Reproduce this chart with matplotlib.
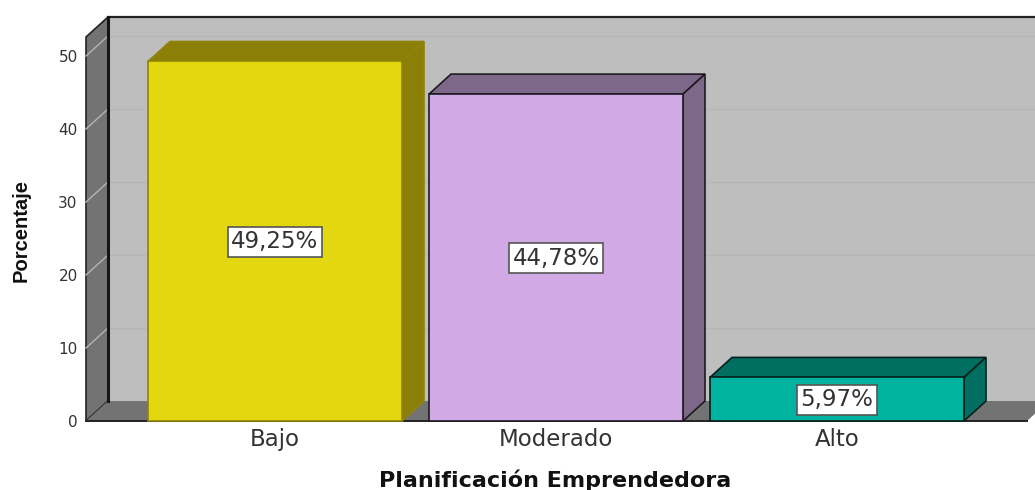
import matplotlib
matplotlib.use("Agg")
import matplotlib.pyplot as plt
from matplotlib.patches import Polygon, Rectangle

categories = ["Bajo", "Moderado", "Alto"]
values = [49.25, 44.78, 5.97]
labels = ["49,25%", "44,78%", "5,97%"]
yticks = [0, 10, 20, 30, 40, 50]
front = ["#E3D70F", "#D0A9E5", "#00B39F"]
shade = ["#8B7F08", "#7E6889", "#006E60"]
edges = ["#8F8408", "#1E1A22", "#06201C"]

W, H = 1035, 490
fig = plt.figure(figsize=(W / 100, H / 100), dpi=100, facecolor="white")
L, R, B, T = 86, 1027, 421, 17
ax = fig.add_axes([L / W, 1 - B / H, (R - L) / W, (B - T) / H])
px_x, px_y = 281.0, 7.3
ax.set_xlim((L - 275) / px_x, (R - 275) / px_x)
ax.set_ylim(0, (B - T) / px_y)
for s in ax.spines.values():
    s.set_visible(False)
ax.patch.set_visible(False)

dx, dy = 22 / px_x, 20 / px_y
x0, x1 = ax.get_xlim()
y1 = ax.get_ylim()[1]
wall = "#BEBEBE"
side = "#737373"
kw = dict(clip_on=False)

# back wall
ax.add_patch(Rectangle((x0 + dx, dy), x1 - x0 + dx, y1 - dy, fc=wall, ec="none", zorder=1, **kw))
ax.plot([x0 + dx, x1 + dx], [y1, y1], color="#222222", lw=1.6, zorder=2, **kw)
# left wall
ax.add_patch(Polygon([(x0, 0), (x0 + dx, dy), (x0 + dx, y1), (x0, y1 - dy)], fc=side, ec="#222222", lw=1.2, zorder=2, **kw))
ax.plot([x0 + dx, x0 + dx], [dy, y1], color="#151515", lw=2.2, zorder=3, **kw)
# floor
ax.add_patch(Polygon([(x0, 0), (x1, 0), (x1 + dx, dy), (x0 + dx, dy)], fc=side, ec="none", zorder=2, **kw))
ax.plot([x0, x1], [0, 0], color="#222222", lw=1.4, zorder=3, **kw)
# gridlines
for t in yticks[1:]:
    ax.plot([x0 + dx, x1 + dx], [t + dy, t + dy], color="#B6B6B6", lw=1.0, zorder=1.5, **kw)
    ax.plot([x0, x0 + dx], [t, t + dy], color="#B4B4B4", lw=1.0, zorder=2.5, **kw)

# bars
width = 254 / px_x
for i, v in enumerate(values):
    l, r = i - width / 2, i + width / 2
    ax.add_patch(Rectangle((l, 0), width, v, fc=front[i], ec=edges[i], lw=1.2, zorder=5, **kw))
    ax.add_patch(Polygon([(l, v), (r, v), (r + dx, v + dy), (l + dx, v + dy)], fc=shade[i], ec=edges[i], lw=1.2, zorder=4, **kw))
    ax.add_patch(Polygon([(r, 0), (r + dx, dy), (r + dx, v + dy), (r, v)], fc=shade[i], ec=edges[i], lw=1.2, zorder=4, **kw))
    ax.text(i, v / 2 - 0.1, labels[i], ha="center", va="center", fontsize=16.5, color="#333333",
            family="DejaVu Sans", zorder=6,
            bbox=dict(boxstyle="square,pad=0.16", fc="white", ec="#555555", lw=1.2))

ax.set_xticks(range(len(categories)))
ax.set_xticklabels(categories, family="DejaVu Sans", fontsize=16.5, color="#333333")
ax.set_yticks(yticks)
ax.set_yticklabels([str(t) for t in yticks], family="DejaVu Sans", fontsize=11, color="#333333")
ax.tick_params(axis="both", length=0)
ax.tick_params(axis="x", pad=5)
ax.tick_params(axis="y", pad=6)

fig.text(555 / W, 1 - 480 / H, "Planificación Emprendedora", ha="center", va="center",
         family="DejaVu Sans", fontweight="bold", fontsize=16, color="#111111")
fig.text(21 / W, 1 - 230 / H, "Porcentaje", rotation=90, ha="center", va="center",
         family="Liberation Sans", fontweight="bold", fontsize=14.5, color="#111111")

fig.savefig("out.png", dpi=100, facecolor="white")
